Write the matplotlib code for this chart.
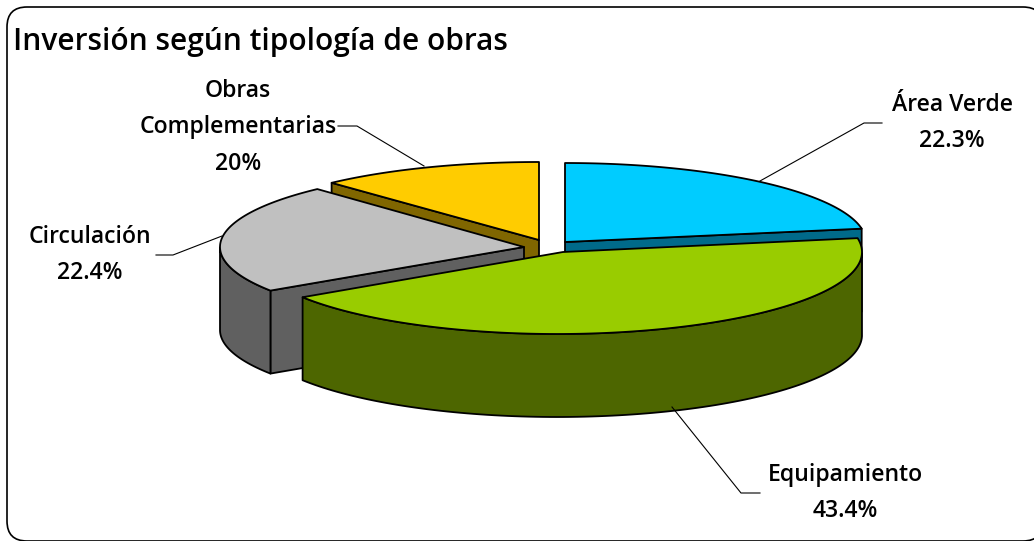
import numpy as np
import matplotlib
matplotlib.use("Agg")
import matplotlib.pyplot as plt
from matplotlib.patches import FancyBboxPatch, Polygon

# the slices are drawn from the values, the labels are what the chart prints
categories = ["Área Verde", "Equipamiento", "Circulación", "Obras\nComplementarias"]
values = [22.3, 43.4, 22.4, 11.9]
value_labels = ["22.3%", "43.4%", "22.4%", "20%"]
title = "Inversión según tipología de obras"

top_colors = ["#00CCFF", "#99CC00", "#C0C0C0", "#FFCC00"]
side_colors = ["#006A8A", "#4D6600", "#606060", "#806600"]

# apex of each exploded slice in pixels, then ellipse radii
apex = [(565, 242), (563, 252), (524, 247), (539, 240)]
rx = [301, 305, 304, 305]
ry = [79, 82, 79, 78]
arc_shift = [0, -6, 0, 0]
depth = 83

fig = plt.figure(figsize=(10.34, 5.41), dpi=100)
ax = fig.add_axes([0, 0, 1, 1])
ax.set_xlim(0, 1034)
ax.set_ylim(541, 0)
ax.axis("off")

# frame runs off the right and bottom of the picture
ax.add_patch(FancyBboxPatch((7, 7), 1036, 534, boxstyle="round,pad=0,rounding_size=20",
                            fc="white", ec="black", lw=1.2))

# angles go clockwise from the top of the pie
ends = 90 - np.cumsum(values) * 3.6
starts = np.r_[90, ends[:-1]]


def point(i, t):
    t = np.radians(t)
    return (apex[i][0] + arc_shift[i] + rx[i] * np.cos(t), apex[i][1] - ry[i] * np.sin(t))


def draw(pts, color):
    ax.add_patch(Polygon(pts, closed=True, fc=color, ec="black", lw=1.3, joinstyle="round"))


def draw_slice(i):
    a, b = starts[i], ends[i]
    ts = np.linspace(a, b, 120)
    x, y = point(i, ts)
    # cut face on the side that looks at us
    for t in (a, b):
        px, py = point(i, t)
        if (i == 0 and t == b) or (i == 3 and t == a) or (i == 2 and t == a):
            draw([apex[i], (px, py), (px, py + depth), (apex[i][0], apex[i][1] + depth)], side_colors[i])
    # outer wall, only the lower half of the ellipse can be seen
    front = np.sin(np.radians(ts)) <= 0
    if front.any():
        fx, fy = x[front], y[front]
        draw(np.r_[np.c_[fx, fy], np.c_[fx[::-1], fy[::-1] + depth]], side_colors[i])
    draw(np.r_[[apex[i]], np.c_[x, y]], top_colors[i])


for i in [3, 0, 2, 1]:
    draw_slice(i)

# leader lines
leaders = [
    ([760, 864, 882], [181, 123, 123]),
    ([672, 741, 760], [407, 493, 493]),
    ([222, 173, 156], [236, 255, 255]),
    ([424, 357, 338], [166, 126, 126]),
]
for lx, ly in leaders:
    ax.plot(lx, ly, color="black", lw=0.8)

font = "Open Sans"
ax.text(13, 50, title, fontsize=21.5, family=font, weight=600, ha="left", va="baseline")

# centre x and first baseline of each label
label_pos = [(952, 111), (845, 481), (90, 243), (238, 97)]
for pos, cat, val in zip(label_pos, categories, value_labels):
    lines = cat.split("\n") + [val]
    for k, line in enumerate(lines):
        ax.text(pos[0], pos[1] + 36.3 * k, line, fontsize=16.6, family=font, weight=600,
                ha="center", va="baseline")

fig.savefig("out.png", dpi=100)
